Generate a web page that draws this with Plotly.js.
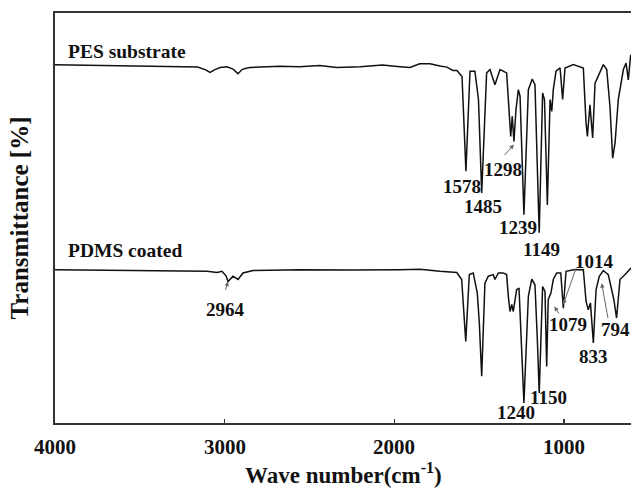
<!DOCTYPE html>
<html>
<head>
<meta charset="utf-8">
<script src="https://cdn.plot.ly/plotly-3.0.1.min.js"></script>
<style>
  html, body { margin: 0; padding: 0; background: #fff; }
  #chart { width: 631px; height: 492px; }
</style>
</head>
<body>
<div id="chart"></div>
<script>
// FTIR spectra of the bare PES substrate and the PDMS-coated membrane (offset vertically)
const pesWavenumber = [4000, 3850, 3700, 3500, 3300, 3160, 3115, 3086, 3057, 3027, 2986, 2951, 2921, 2898, 2874, 2850,
  2674, 2560, 2440, 2340, 2200, 2070, 1967, 1908, 1850, 1790, 1731, 1690, 1655, 1631,
  1601, 1578, 1554, 1525, 1504, 1485, 1456, 1436, 1407, 1377, 1338, 1324, 1314, 1305, 1295, 1283, 1269, 1259,
  1236, 1210, 1187, 1171, 1146, 1126, 1115, 1098, 1082, 1072, 1063, 1047, 1023, 1008, 994, 945,
  886, 870, 862, 847, 831, 817, 798, 768, 748, 729, 713, 699, 680, 650, 634, 621, 607];
const pesTransmittance = [87.4, 87.3, 87.1, 87.0, 86.9, 86.8, 86.2, 85.5, 86.2, 86.7, 86.9, 86.3, 85.2, 86.2, 86.5, 86.7,
  87.0, 86.9, 87.2, 86.7, 86.9, 87.3, 86.9, 86.7, 87.6, 87.6, 87.1, 86.8, 86.0, 86.0,
  84.5, 61.4, 85.8, 85.8, 78.9, 56.1, 85.4, 86.2, 82.5, 86.2, 85.4, 77.2, 69.9, 74.8, 68.7, 76.4, 81.3, 79.7,
  50.8, 81.3, 83.9, 82.5, 46.4, 80.5, 78.9, 53.2, 78.9, 76.0, 81.3, 85.8, 86.6, 78.9, 86.6, 87.4,
  86.6, 73.2, 69.9, 77.6, 69.5, 82.9, 84.5, 87.4, 86.2, 77.2, 64.6, 68.3, 78.9, 86.2, 87.8, 83.7, 89.8];

const pdmsWavenumber = [4000, 3735, 3399, 3204, 3104, 3045, 3016, 2992, 2980, 2951, 2921, 2892, 2833, 2556, 2261, 1967, 1849, 1731,
  1632, 1603, 1579, 1558, 1535, 1511, 1499, 1485, 1466, 1446, 1417, 1407, 1387, 1358, 1338, 1328, 1318, 1308, 1299, 1279, 1265,
  1236, 1210, 1190, 1171, 1157, 1146, 1126, 1112, 1102, 1093, 1077, 1063, 1043, 1019, 1004, 988, 945,
  886, 870, 857, 844, 827, 811, 792, 768, 739, 719, 706, 690, 670, 640, 621, 605];
const pdmsTransmittance = [37.4, 37.3, 37.0, 37.1, 37.0, 36.7, 37.0, 35.9, 34.5, 35.8, 35.0, 36.6, 37.2, 37.4, 37.3, 37.4, 37.5, 37.0,
  36.7, 35.0, 19.9, 36.2, 36.6, 31.7, 24.4, 11.4, 34.1, 35.8, 36.2, 35.0, 36.6, 36.6, 36.2, 30.9, 27.2, 28.9, 27.2, 32.5, 32.9,
  4.9, 30.9, 35.1, 33.7, 20.3, 7.3, 33.3, 32.1, 13.8, 30.1, 31.7, 35.0, 36.6, 36.6, 28.0, 37.0, 37.4,
  37.4, 29.7, 27.6, 29.3, 19.5, 32.5, 35.8, 37.2, 36.2, 32.5, 30.1, 25.6, 35.0, 36.2, 37.0, 37.8];

const tickValues = [4000, 3000, 2000, 1000];
const tickLabels = ['4000', '3000', '2000', '1000'];

// band labels: [text, wavenumber, transmittance]
const bandLabels = [
  ['1578', 1603, 57.7], ['1485', 1476, 52.8], ['1298', 1358, 61.8], ['1239', 1269, 47.6], ['1149', 1131, 42.3],
  ['2964', 2998, 27.6], ['1014', 823, 39.4], ['1079', 975, 24.0], ['833', 827, 16.2], ['794', 695, 22.8],
  ['1150', 1093, 6.2], ['1240', 1283, 2.6]
];
// pointer arrows: [tail wavenumber, tail T, head wavenumber, head T]
const bandPointers = [
  [1358, 65.0, 1295, 67.9],
  [2998, 32.1, 2980, 34.5],
  [925, 38.2, 1004, 28.9],
  [1024, 26.4, 1057, 28.4],
  [739, 25.2, 778, 34.1]
];
const sampleNames = [['PES substrate', 3935, 90.6], ['PDMS coated', 3935, 42.0]];

const serif = 'Liberation Serif, Times New Roman, serif';
const lineStyle = { color: '#111', width: 1.5 };

const traces = [
  { x: pesWavenumber, y: pesTransmittance, mode: 'lines', line: lineStyle, hoverinfo: 'skip' },
  { x: pdmsWavenumber, y: pdmsTransmittance, mode: 'lines', line: lineStyle, hoverinfo: 'skip' }
];

const annotations = [];
bandLabels.forEach(([t, x, y]) => annotations.push({
  text: t, x: x, y: y, xref: 'x', yref: 'y', showarrow: false,
  font: { family: serif, size: 19, color: '#111', weight: 'bold' }
}));
bandPointers.forEach(([tx, ty, hx, hy]) => annotations.push({
  text: '', x: hx, y: hy, ax: tx, ay: ty, xref: 'x', yref: 'y', axref: 'x', ayref: 'y',
  showarrow: true, arrowhead: 2, arrowsize: 0.9, arrowwidth: 1, arrowcolor: '#666'
}));
sampleNames.forEach(([t, x, y]) => annotations.push({
  text: t, x: x, y: y, xref: 'x', yref: 'y', xanchor: 'left', showarrow: false,
  font: { family: serif, size: 19.5, color: '#111', weight: 'bold' }
}));
// wavenumber tick labels, set a little further below the axis
tickValues.forEach((v, i) => annotations.push({
  text: tickLabels[i], x: v, y: -0.058, xref: 'x', yref: 'paper', yanchor: 'middle', showarrow: false,
  font: { family: serif, size: 21, color: '#111', weight: 'bold' }
}));
annotations.push({
  text: 'Wave number(cm<sup>-1</sup>)', x: 0.5, y: -0.163, xref: 'paper', yref: 'paper',
  yanchor: 'bottom', showarrow: false,
  font: { family: serif, size: 23, color: '#111', weight: 'bold' }
});

const layout = {
  width: 631, height: 492,
  margin: { l: 55, r: 0, t: 13, b: 69 },
  paper_bgcolor: '#fff', plot_bgcolor: '#fff',
  showlegend: false,
  xaxis: {
    range: [4000, 605], tickvals: tickValues, showticklabels: false,
    ticks: 'inside', ticklen: 4, tickwidth: 1.5, tickcolor: '#333',
    showline: true, linecolor: '#333', linewidth: 1.8, mirror: true,
    showgrid: false, zeroline: false
  },
  yaxis: {
    range: [0, 100], showticklabels: false, ticks: '',
    showline: true, linecolor: '#333', linewidth: 1.8, mirror: false,
    showgrid: false, zeroline: false,
    title: { text: 'Transmittance [%]', standoff: 17,
             font: { family: serif, size: 25, color: '#111', weight: 'bold' } }
  },
  annotations: annotations
};

Plotly.newPlot('chart', traces, layout, { staticPlot: true, displayModeBar: false });
</script>
</body>
</html>
